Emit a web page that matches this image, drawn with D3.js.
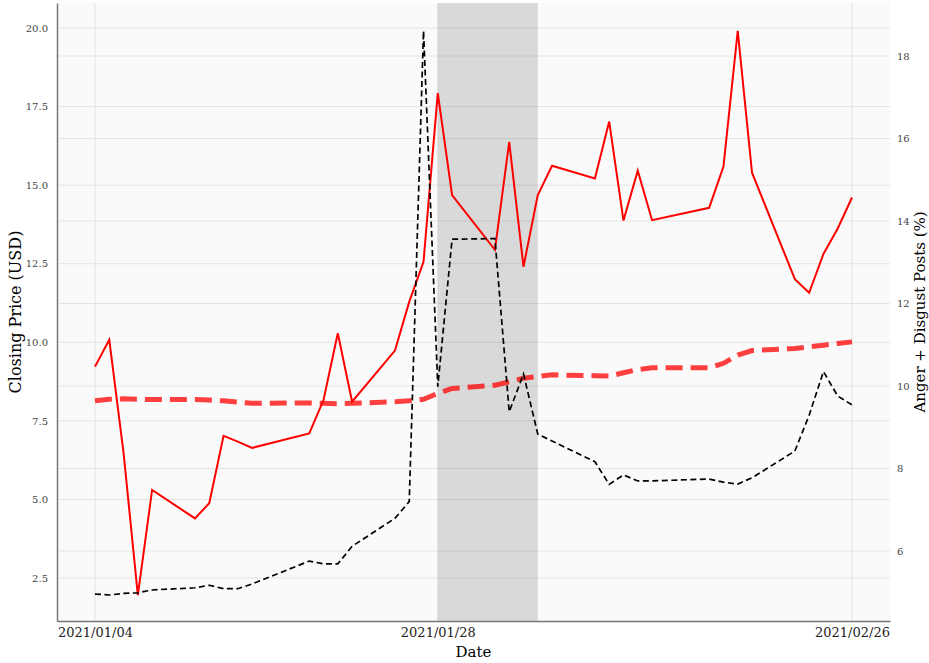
<!DOCTYPE html>
<html>
<head>
<meta charset="utf-8">
<script src="https://cdn.jsdelivr.net/npm/d3@7"></script>
<style>
  html, body { margin: 0; padding: 0; background: #ffffff; }
  svg { display: block; }
</style>
</head>
<body>
<svg id="chart" width="929" height="663"></svg>
<script>
// ---- data ----
const dates = ["2021-01-04","2021-01-05","2021-01-06","2021-01-07","2021-01-08",
  "2021-01-11","2021-01-12","2021-01-13","2021-01-14","2021-01-15",
  "2021-01-19","2021-01-20","2021-01-21","2021-01-22",
  "2021-01-25","2021-01-26","2021-01-27","2021-01-28","2021-01-29",
  "2021-02-01","2021-02-02","2021-02-03","2021-02-04","2021-02-05",
  "2021-02-08","2021-02-09","2021-02-10","2021-02-11","2021-02-12",
  "2021-02-16","2021-02-17","2021-02-18","2021-02-19",
  "2021-02-22","2021-02-23","2021-02-24","2021-02-25","2021-02-26"];
// closing price (USD), left axis
const closePrice = [1.99,1.96,2.01,2.03,2.12, 2.19,2.27,2.16,2.16,2.31,
  3.04,2.95,2.95,3.51, 4.40,4.93,19.91,8.59,13.28,
  13.30,7.79,8.99,7.08,6.86, 6.20,5.48,5.78,5.59,5.59,
  5.65,5.55,5.49,5.69, 6.54,7.68,9.07,8.29,8.01];
// anger + disgust posts (%), right axis
const angerDisgust = [10.47,11.12,8.38,4.93,7.48, 6.79,7.16,8.79,8.65,8.50,
  8.85,9.66,11.28,9.62, 10.86,12.04,13.01,17.10,14.63,
  13.30,15.92,12.89,14.63,15.34, 15.03,16.41,14.01,15.22,14.02,
  14.32,15.32,18.61,15.17, 12.59,12.26,13.20,13.82,14.57];
// trend of anger + disgust posts (%), right axis
const angerTrend = [9.64,9.68,9.69,9.68,9.67, 9.67,9.66,9.64,9.61,9.58,
  9.59,9.58,9.57,9.58, 9.62,9.64,9.68,9.82,9.94,
  10.02,10.10,10.19,10.23,10.27, 10.25,10.24,10.32,10.40,10.44,
  10.44,10.55,10.75,10.86, 10.91,10.95,10.99,11.03,11.07];
const leftTicks = [2.5,5.0,7.5,10.0,12.5,15.0,17.5,20.0];
const rightTicks = [6,8,10,12,14,16,18];
const xTickLabels = ["2021/01/04","2021/01/28","2021/02/26"];
const shadeRange = ["2021-01-28","2021-02-04"];

// ---- layout ----
const svg = d3.select("#chart");
const L = 57, R = 890, T = 3, B = 621;
const parse = d3.timeParse("%Y-%m-%d");
const parseTick = d3.timeParse("%Y/%m/%d");
const day = 86400000;
const d0 = parse(dates[0]), d1 = parse(dates[dates.length-1]);
const pad = 2.66 * day;
const x = d3.scaleTime().domain([new Date(+d0 - pad), new Date(+d1 + pad)]).range([L, R]);
const yL = d3.scaleLinear().domain([1.133, 20.795]).range([B, T]);
const yR = d3.scaleLinear().domain([4.303, 19.285]).range([B, T]);

const font = "DejaVu Serif, serif";

// panel background
svg.append("rect").attr("x", L).attr("y", T).attr("width", R-L).attr("height", B-T).attr("fill", "#fafafa");

// gridlines
const grid = svg.append("g").attr("stroke", "#e4e4e4").attr("stroke-width", 1);
leftTicks.forEach(v => grid.append("line").attr("x1", L).attr("x2", R).attr("y1", yL(v)).attr("y2", yL(v)));
rightTicks.forEach(v => grid.append("line").attr("x1", L).attr("x2", R).attr("y1", yR(v)).attr("y2", yR(v)));
xTickLabels.forEach(t => grid.append("line").attr("x1", x(parseTick(t))).attr("x2", x(parseTick(t))).attr("y1", T).attr("y2", B));

// shaded period
svg.append("rect")
  .attr("x", x(parse(shadeRange[0]))).attr("y", T)
  .attr("width", x(parse(shadeRange[1])) - x(parse(shadeRange[0])))
  .attr("height", B - T)
  .attr("fill", "#000").attr("fill-opacity", 0.13);

const pts = dates.map((d, i) => ({d: parse(d), c: closePrice[i], a: angerDisgust[i], t: angerTrend[i]}));

// trend line (thick dashed)
svg.append("path").datum(pts)
  .attr("fill", "none").attr("stroke", "#ff0000").attr("stroke-opacity", 0.75)
  .attr("stroke-width", 5).attr("stroke-dasharray", "17,8")
  .attr("d", d3.line().x(p => x(p.d)).y(p => yR(p.t)));

// anger + disgust line
svg.append("path").datum(pts)
  .attr("fill", "none").attr("stroke", "#ff0000").attr("stroke-width", 2)
  .attr("stroke-linejoin", "miter")
  .attr("d", d3.line().x(p => x(p.d)).y(p => yR(p.a)));

// closing price (black dashed)
svg.append("path").datum(pts)
  .attr("fill", "none").attr("stroke", "#000").attr("stroke-width", 1.7)
  .attr("stroke-dasharray", "6,3.5")
  .attr("d", d3.line().x(p => x(p.d)).y(p => yL(p.c)));

// axes
const axL = svg.append("g").attr("transform", `translate(${L},0)`)
  .call(d3.axisLeft(yL).tickValues(leftTicks).tickFormat(d3.format(".1f")).tickSize(0).tickPadding(9));
const axR = svg.append("g").attr("transform", `translate(${R},0)`)
  .call(d3.axisRight(yR).tickValues(rightTicks).tickFormat(d3.format("d")).tickSize(0).tickPadding(7));
const axB = svg.append("g").attr("transform", `translate(0,${B})`)
  .call(d3.axisBottom(x).tickValues(xTickLabels.map(parseTick)).tickFormat(d3.timeFormat("%Y/%m/%d")).tickSize(0).tickPadding(7));

axL.select(".domain").attr("stroke", "#777").attr("stroke-width", 1.5);
axB.select(".domain").attr("stroke", "#777").attr("stroke-width", 1.5);
axR.select(".domain").remove();
[axL, axR].forEach(a => a.selectAll("text").attr("font-family", font).attr("font-size", 10).attr("fill", "#444"));
axB.selectAll("text").attr("font-family", font).attr("font-size", 13).attr("fill", "#222");

// titles
svg.append("text").attr("x", (L+R)/2).attr("y", 657).attr("text-anchor", "middle")
  .attr("font-family", font).attr("font-size", 15).attr("fill", "#000").text("Date");
svg.append("text").attr("transform", `translate(21,${(T+B)/2}) rotate(-90)`).attr("text-anchor", "middle")
  .attr("font-family", font).attr("font-size", 16).attr("fill", "#000").text("Closing Price (USD)");
svg.append("text").attr("transform", `translate(925,${(T+B)/2}) rotate(-90)`).attr("text-anchor", "middle")
  .attr("font-family", font).attr("font-size", 15).attr("fill", "#000").text("Anger + Disgust Posts (%)");
</script>
</body>
</html>
